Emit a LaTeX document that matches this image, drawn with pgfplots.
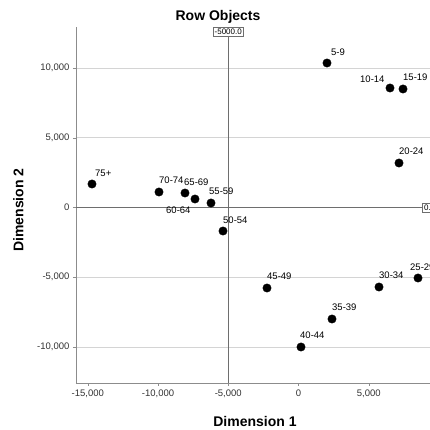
\documentclass[border=0pt]{standalone}
\usepackage{fontspec}
\setmainfont{Liberation Sans}
\usepackage{pgfplots}
\usepackage{pgfplotstable}
\pgfplotsset{compat=1.18}

\definecolor{axisgray}{HTML}{8C8C8C}
\definecolor{gridgray}{HTML}{D4D4D4}
\definecolor{refgray}{HTML}{6E6E6E}
\definecolor{ticktext}{HTML}{333333}

% dx, dy: label offset from the dot (pt)
\pgfplotstableread{
x      y      dx   dy   lbl
2028   10358   4    7   5-9
6512   8566  -30    5   10-14
7438   8495    0    8   15-19
7153   3190    0    8   20-24
8505  -5054   -8    7   25-29
5730  -5699    0    8   30-34
2384  -7993    0    8   35-39
178   -10000  -1    8   40-44
-2242 -5771    0    8   45-49
-5374 -1685    0    7   50-54
-6228  323    -2    8   55-59
-7367  609   -29  -15   60-64
-8078  1039   -1    7   65-69
-9929  1111    0    8   70-74
-14698 1685    3    7   75+
}\rowdata

\begin{document}
\begin{tikzpicture}
\begin{axis}[
    scale only axis,
    width=361pt, height=356pt,
    xmin=-15836, xmax=9857,
    ymin=-12581, ymax=12939,
    axis lines=left,
    axis line style={-, draw=axisgray},
    xtick={-15000,-10000,-5000,0,5000},
    ytick={-10000,-5000,0,5000,10000},
    scaled ticks=false,
    tick align=outside,
    major tick length=3pt,
    tick style={draw=axisgray},
    ymajorgrids,
    grid style={gridgray, line width=0.6pt},
    /pgf/number format/1000 sep={,},
    /pgf/number format/assume math mode=true,
    ticklabel style={font=\fontsize{9.5}{11}\selectfont, text=ticktext},
    title={Row Objects},
    title style={at={(axis description cs:0.3934,1.0365)}, anchor=center,
        yshift=-9pt, font=\fontsize{14}{16}\selectfont\bfseries},
    xlabel={Dimension 1},
    xlabel style={at={(axis description cs:0.4958,-0.1039)}, anchor=center,
        yshift=-2pt, font=\fontsize{14}{16}\selectfont\bfseries},
    ylabel={Dimension 2},
    ylabel style={at={(axis description cs:-0.1593,0.486)}, anchor=center,
        font=\fontsize{14}{16}\selectfont\bfseries},
    clip=false,
]
% reference lines
\draw[refgray, line width=0.8pt] ({axis cs:-5000,0} |- {rel axis cs:0,0})
    -- ({axis cs:-5000,0} |- {rel axis cs:0,1});
\draw[refgray, line width=0.8pt] ({rel axis cs:0,0} |- {axis cs:0,0})
    -- ({rel axis cs:1,0} |- {axis cs:0,0});
\node[draw=refgray, fill=white, inner sep=1.5pt, anchor=north,
    font=\fontsize{8}{9}\selectfont]
    at ({axis cs:-5000,0} |- {rel axis cs:0,1}) {-5000.0};
\node[draw=refgray, fill=white, inner sep=1.5pt, anchor=east,
    font=\fontsize{8}{9}\selectfont]
    at ({rel axis cs:1,0} |- {axis cs:0,0}) {0.0};

\addplot[only marks, mark=*, mark size=4.2pt, black,
    point meta=explicit symbolic,
    visualization depends on={\thisrow{dx}\as\dx},
    visualization depends on={\thisrow{dy}\as\dy},
    nodes near coords,
    every node near coord/.append style={anchor=south west, inner sep=0pt,
        xshift=\dx, yshift=\dy, text=black,
        font=\fontsize{9.5}{11}\selectfont},
] table[x=x, y=y, meta=lbl] {\rowdata};
\end{axis}
\pgfresetboundingbox
\useasboundingbox (-76pt,-47pt) rectangle (353pt,383pt);
\end{tikzpicture}
\end{document}
